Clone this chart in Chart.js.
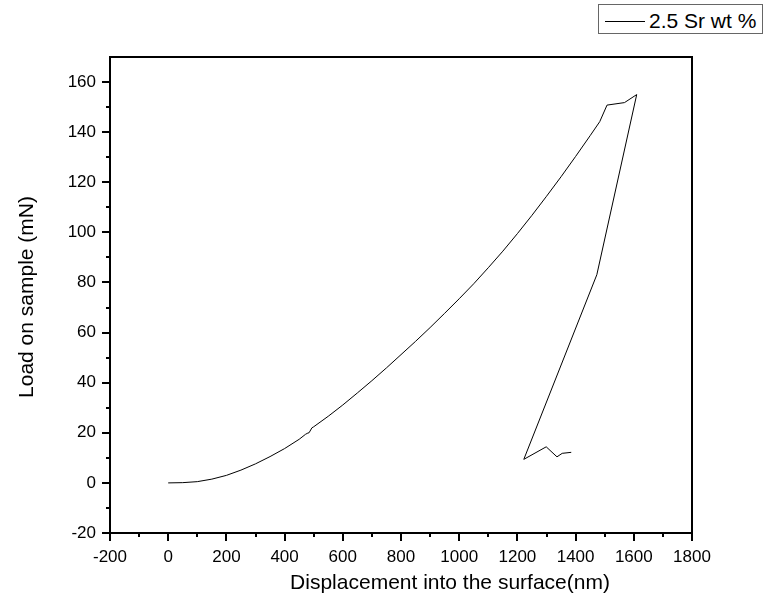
<!DOCTYPE html>
<html>
<head>
<meta charset="utf-8">
<script src="https://cdn.jsdelivr.net/npm/chart.js@4.4.1/dist/chart.umd.min.js"></script>
<style>
  body { margin: 0; background: #fff; }
  #wrap { position: relative; width: 767px; height: 613px; }
  #legend {
    position: absolute; left: 598px; top: 4px; width: 163px; height: 28px;
    border: 1px solid #666; background: #fff;
    font: 21px "Liberation Sans", Arial, sans-serif; color: #000;
  }
  #legend .swatch { position: absolute; left: 6px; top: 16px; width: 40px; border-top: 1px solid #000; }
  #legend .label { position: absolute; left: 50px; top: 4px; line-height: 24px; white-space: nowrap; }
</style>
</head>
<body>
<div id="wrap">
  <canvas id="chart" width="767" height="613"></canvas>
  <div id="legend"><span class="swatch"></span><span class="label">2.5 Sr wt %</span></div>
</div>
<script>
// loading then unloading path
const displacement = [0, 50, 100, 150, 200, 250, 300, 350, 400, 450, 472, 480, 484, 494, 500, 550, 600, 650, 700, 750, 800, 850, 900, 950, 1000, 1050, 1100, 1150, 1200, 1250, 1300, 1350, 1400, 1450, 1483, 1508, 1568, 1610, 1473, 1222, 1299, 1336, 1354, 1385];
const load = [0, 0.1, 0.5, 1.5, 3.0, 5.1, 7.6, 10.5, 13.7, 17.4, 19.4, 19.9, 20.0, 22.0, 22.4, 26.6, 31.1, 35.9, 40.8, 45.9, 51.2, 56.5, 62.0, 67.7, 73.5, 79.5, 85.9, 92.5, 99.5, 106.8, 114.4, 122.2, 130.3, 138.6, 144.2, 150.8, 151.8, 155, 83.1, 9.4, 14.4, 10.4, 11.8, 12.2];

const xRange = [-200, 1800];
const yRange = [-20, 170];
const seriesName = '2.5 Sr wt %';
const xTitle = 'Displacement into the surface(nm)';
const yTitle = 'Load on sample (mN)';

const FONT = '"Liberation Sans", Arial, sans-serif';

const points = displacement.map((d, i) => ({ x: d, y: load[i] }));

// frame, major/minor ticks and axis titles
const frameTicks = {
  id: 'frameTicks',
  afterDraw(chart) {
    const { ctx, chartArea: a, scales: { x, y } } = chart;
    ctx.save();
    ctx.strokeStyle = '#000';
    ctx.lineWidth = 2;
    ctx.strokeRect(a.left, a.top, a.right - a.left, a.bottom - a.top);
    ctx.beginPath();
    for (let v = xRange[0]; v <= xRange[1]; v += 100) {
      const px = Math.round(x.getPixelForValue(v));
      const len = Math.abs(v % 200) === 0 ? 8 : 4;
      ctx.moveTo(px, a.bottom);
      ctx.lineTo(px, a.bottom + len);
    }
    for (let v = yRange[0]; v < yRange[1]; v += 10) {
      const py = Math.round(y.getPixelForValue(v));
      const len = Math.abs(v % 20) === 0 ? 8 : 4;
      ctx.moveTo(a.left, py);
      ctx.lineTo(a.left - len, py);
    }
    ctx.stroke();

    ctx.fillStyle = '#000';
    ctx.font = '21px ' + FONT;
    ctx.textAlign = 'center';
    ctx.textBaseline = 'middle';
    ctx.fillText(xTitle, 450, 583);
    ctx.translate(27, 297);
    ctx.rotate(-Math.PI / 2);
    ctx.fillText(yTitle, 0, 0);
    ctx.restore();
  }
};

new Chart(document.getElementById('chart'), {
  type: 'scatter',
  data: {
    datasets: [{
      label: seriesName,
      data: points,
      showLine: true,
      borderColor: '#000',
      borderWidth: 1,
      pointRadius: 0,
      tension: 0,
    }],
  },
  options: {
    responsive: false,
    animation: false,
    layout: { padding: { left: 0, right: 75, top: 57, bottom: 0 } },
    plugins: { legend: { display: false }, tooltip: { enabled: false } },
    scales: {
      x: {
        type: 'linear',
        min: xRange[0],
        max: xRange[1],
        afterFit: (s) => { s.height = 80; },
        border: { display: false },
        grid: { display: false, drawTicks: false },
        ticks: {
          stepSize: 200,
          includeBounds: false,
          padding: 14,
          color: '#000',
          font: { family: FONT, size: 17 },
          maxRotation: 0,
          callback: (v) => String(v),
        },
      },
      y: {
        type: 'linear',
        min: yRange[0],
        max: yRange[1],
        afterFit: (s) => { s.width = 110; },
        border: { display: false },
        grid: { display: false, drawTicks: false },
        ticks: {
          stepSize: 20,
          includeBounds: false,
          padding: 14,
          color: '#000',
          font: { family: FONT, size: 17 },
          callback: (v) => String(v),
        },
      },
    },
  },
  plugins: [frameTicks],
});
</script>
</body>
</html>
